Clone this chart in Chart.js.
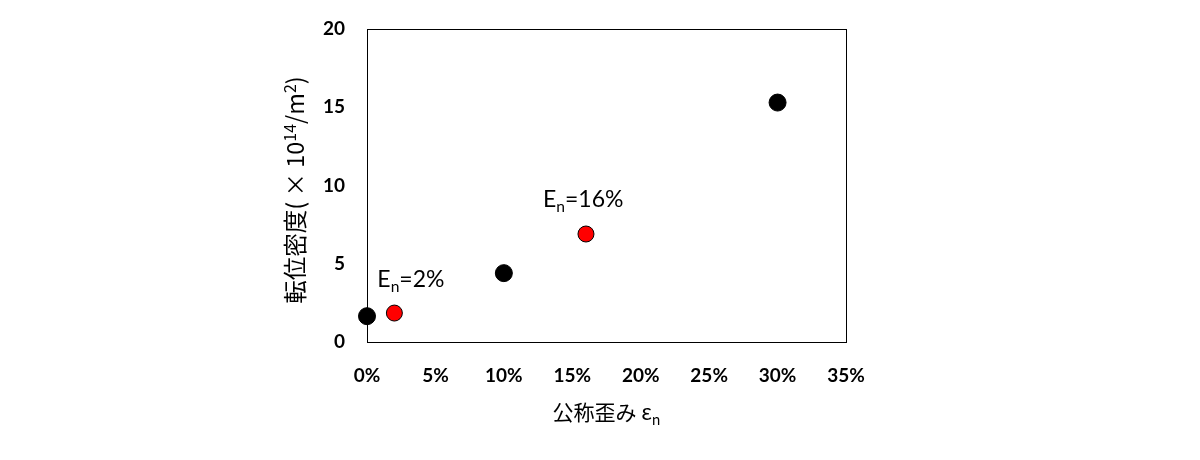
<!DOCTYPE html>
<html>
<head>
<meta charset="utf-8">
<script src="https://cdn.jsdelivr.net/npm/chart.js@4"></script>
<style>
  html, body { margin: 0; padding: 0; background: #ffffff; }
  #wrap { width: 1200px; height: 460px; }
</style>
</head>
<body>
<div id="wrap"><canvas id="c" width="1200" height="460"></canvas></div>
<script>
// ---- data ----
const blackStrain  = [0, 10, 30];          // 公称歪み (%)
const blackDensity = [1.65, 4.4, 15.3];    // 転位密度 (×10^14/m^2)
const redStrain    = [2, 16];
const redDensity   = [1.85, 6.9];
const redLabels    = ['2%', '16%'];        // E_n = ...
const xTickValues  = [0, 5, 10, 15, 20, 25, 30, 35];
const yTickValues  = [0, 5, 10, 15, 20];
const yTitleParts  = [['転位密度( × 10', ''], ['14', 'sup'], ['/m', ''], ['2', 'sup'], [')', '']];
const xTitleParts  = [['公称歪み ε', ''], ['n', 'sub']];

const toPoints = (xs, ys) => xs.map((x, i) => ({ x: x, y: ys[i] }));

function richWidth(ctx, parts, size, family, weight, ss) {
  let w = 0;
  parts.forEach(([t, s]) => {
    const sz = s ? size * (ss || 0.62) : size;
    ctx.font = (weight || 'normal') + ' ' + sz + 'px ' + family;
    w += ctx.measureText(t).width;
  });
  return w;
}
function drawRich(ctx, x, y, parts, size, family, weight, ss) {
  let cx = x;
  ctx.textBaseline = 'alphabetic';
  ctx.textAlign = 'left';
  parts.forEach(([t, s]) => {
    const sz = s ? size * (ss || 0.62) : size;
    ctx.font = (weight || 'normal') + ' ' + sz + 'px ' + family;
    let dy = 0;
    if (s === 'sub') dy = size * 0.22;
    if (s === 'sup') dy = -size * 0.36;
    ctx.fillText(t, cx, y + dy);
    cx += ctx.measureText(t).width;
  });
}

const decor = {
  id: 'decor',
  beforeDatasetsDraw(chart) {
    const { ctx, chartArea: a } = chart;
    ctx.save();
    ctx.strokeStyle = '#000000';
    ctx.lineWidth = 1;
    ctx.strokeRect(Math.round(a.left) + 0.5, Math.round(a.top) + 0.5,
                   Math.round(a.right - a.left), Math.round(a.bottom - a.top));
    ctx.restore();
  },
  afterDraw(chart) {
    const { ctx, chartArea: a } = chart;
    const xs = chart.scales.x, ys = chart.scales.y;
    ctx.save();
    ctx.fillStyle = '#000000';
    // annotations near red points
    const offs = [[-17, -26], [-43, -27]];
    redStrain.forEach((v, i) => {
      const px = xs.getPixelForValue(v), py = ys.getPixelForValue(redDensity[i]);
      drawRich(ctx, px + offs[i][0], py + offs[i][1],
        [['E', ''], ['n', 'sub'], ['=' + redLabels[i], '']], 23, 'Lato', 'normal', 0.68);
    });
    // x title
    const fam = '"Noto Sans CJK JP"';
    const xw = richWidth(ctx, xTitleParts, 21, fam, 'normal', 0.68);
    drawRich(ctx, (a.left + a.right) / 2 - xw / 2, 420, xTitleParts, 21, fam, 'normal', 0.68);
    // y title
    const yw = richWidth(ctx, yTitleParts, 23.5, fam, 'normal', 0.68);
    ctx.translate(304, 190);
    ctx.rotate(-Math.PI / 2);
    drawRich(ctx, -yw / 2, 0, yTitleParts, 23.5, fam, 'normal', 0.68);
    ctx.restore();
  }
};

new Chart(document.getElementById('c'), {
  type: 'scatter',
  data: {
    datasets: [
      {
        data: toPoints(blackStrain, blackDensity),
        backgroundColor: '#000000',
        borderColor: '#000000',
        borderWidth: 1,
        pointRadius: 8.5,
        clip: false
      },
      {
        data: toPoints(redStrain, redDensity),
        backgroundColor: '#ff0000',
        borderColor: '#000000',
        borderWidth: 1,
        pointRadius: 8,
        clip: false
      }
    ]
  },
  options: {
    responsive: false,
    animation: false,
    devicePixelRatio: 1,
    layout: { padding: { left: 0, right: 354, top: 29, bottom: 0 } },
    plugins: { legend: { display: false }, tooltip: { enabled: false } },
    scales: {
      x: {
        type: 'linear',
        min: 0, max: 35,
        afterFit(s) { s.height = 118; s.paddingLeft = 0; s.paddingRight = 0; },
        afterBuildTicks(s) { s.ticks = xTickValues.map(v => ({ value: v })); },
        grid: { display: false, drawTicks: false },
        border: { display: false },
        ticks: {
          padding: 22, maxRotation: 0, autoSkip: false, color: '#000000',
          font: { family: 'Lato', size: 19, weight: 'bold' },
          callback: v => v + '%'
        }
      },
      y: {
        type: 'linear',
        min: 0, max: 20,
        afterFit(s) { s.width = 367; s.paddingTop = 0; s.paddingBottom = 0; },
        afterBuildTicks(s) { s.ticks = yTickValues.map(v => ({ value: v })); },
        grid: { display: false, drawTicks: false },
        border: { display: false },
        ticks: {
          padding: 22, color: '#000000',
          font: { family: 'Lato', size: 19, weight: 'bold' }
        }
      }
    }
  },
  plugins: [decor]
});
</script>
</body>
</html>
